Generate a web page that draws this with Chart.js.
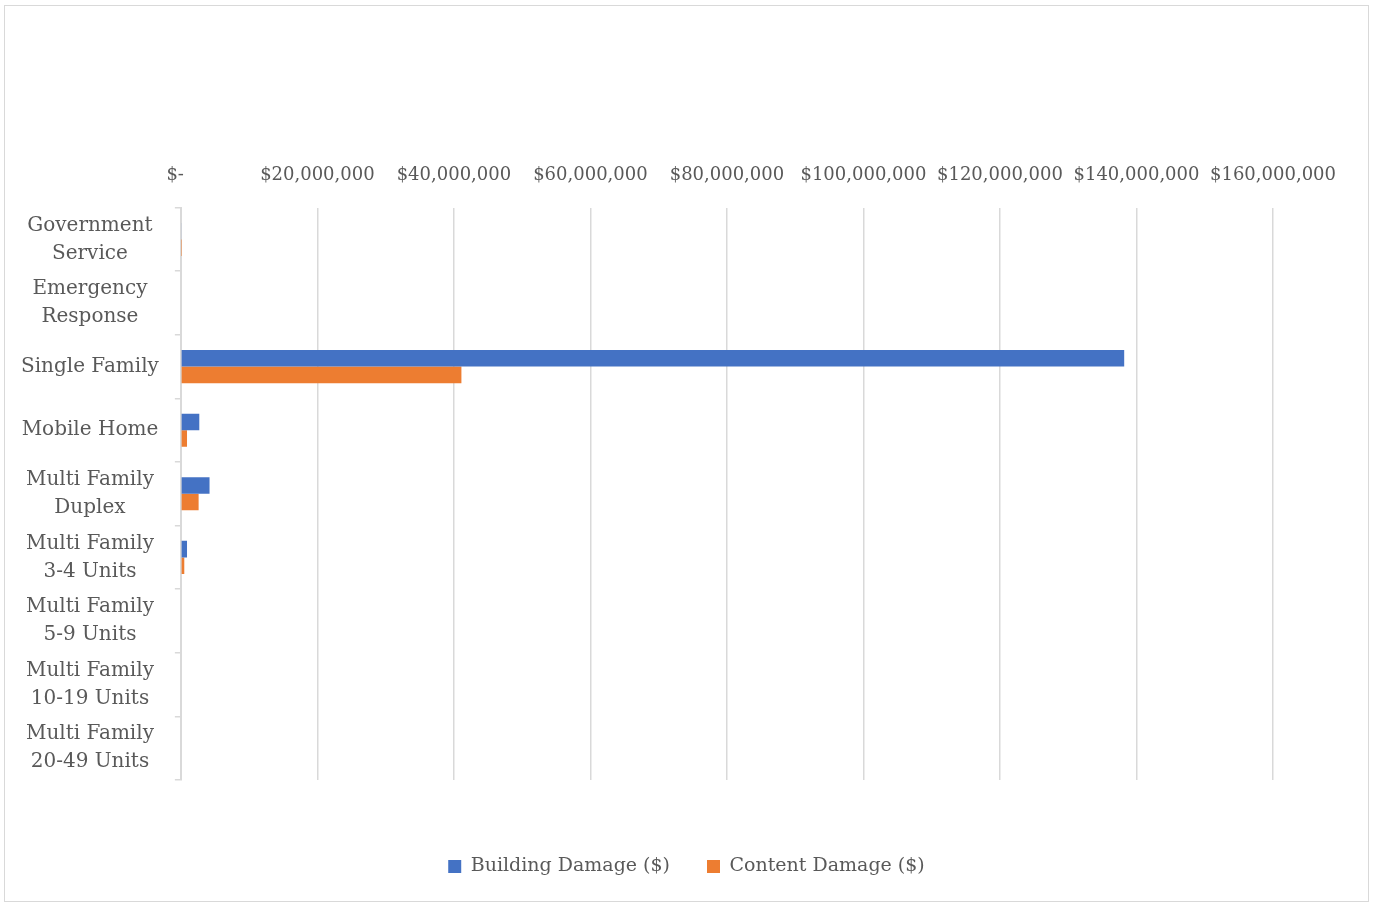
<!DOCTYPE html>
<html>
<head>
<meta charset="utf-8">
<script src="https://cdn.jsdelivr.net/npm/chart.js@4/dist/chart.umd.min.js"></script>
<style>
  html, body { margin: 0; padding: 0; background: #fff; }
  #frame {
    position: absolute; left: 4px; top: 5px;
    width: 1363px; height: 895px;
    border: 1px solid #d9d9d9;
  }
  canvas { display: block; }
</style>
</head>
<body>
<div id="frame"><canvas id="chart" width="1363" height="895"></canvas></div>
<script>
// Categories (multi-line labels as shown on the y axis)
var categories = [
    ['Government', 'Service'],
    ['Emergency', 'Response'],
    'Single Family',
    'Mobile Home',
    ['Multi Family', 'Duplex'],
    ['Multi Family', '3-4 Units'],
    ['Multi Family', '5-9 Units'],
    ['Multi Family', '10-19 Units'],
    ['Multi Family', '20-49 Units']
];

// Values (dollars)
var buildingDamage = [100000, 0, 138200000, 2700000, 4200000, 900000, 0, 0, 0];
var contentDamage  = [40000, 0, 41100000, 900000, 2600000, 500000, 0, 0, 0];

var seriesNames = ['Building Damage ($)', 'Content Damage ($)'];
var xTicks = [0, 20000000, 40000000, 60000000, 80000000, 100000000, 120000000, 140000000, 160000000];

var fontFamily = '"Roboto Slab", "DejaVu Serif", serif';
var textColor = '#595959';
var gridColor = '#d9d9d9';

// accounting style: zero shows as "$-" (trailing spaces like Excel)
function money(v) {
    if (v === 0) return '$-  ';
    return '$' + v.toLocaleString('en-US');
}

var ctx = document.getElementById('chart').getContext('2d');
var chart = new Chart(ctx, {
    type: 'bar',
    data: {
        labels: categories,
        datasets: [{
            label: seriesNames[0],
            data: buildingDamage,
            xAxisID: 'x',
            yAxisID: 'y',
            backgroundColor: '#4472C4',
            categoryPercentage: 0.52,
            barPercentage: 1.0
        }, {
            label: seriesNames[1],
            data: contentDamage,
            xAxisID: 'x',
            yAxisID: 'y',
            backgroundColor: '#ED7D31',
            categoryPercentage: 0.52,
            barPercentage: 1.0
        }]
    },
    options: {
        indexAxis: 'y',
        responsive: false,
        animation: false,
        layout: {
            padding: { top: 138, left: 0, right: 0, bottom: 15 }
        },
        plugins: {
            legend: {
                position: 'bottom',
                labels: {
                    color: textColor,
                    font: { family: fontFamily, size: 19 },
                    boxWidth: 13,
                    boxHeight: 13,
                    padding: 37
                }
            },
            tooltip: { enabled: false }
        },
        scales: {
            x: {
                position: 'top',
                min: 0,
                max: 160000000,
                afterBuildTicks: function(axis) {
                    axis.ticks = xTicks.map(function(v) { return { value: v }; });
                },
                ticks: {
                    color: textColor,
                    font: { family: fontFamily, size: 18 },
                    padding: 21,
                    maxRotation: 0,
                    callback: function(v) { return money(v); }
                },
                grid: {
                    color: gridColor,
                    lineWidth: 1.5,
                    drawTicks: false
                },
                border: { display: false }
            },
            y: {
                ticks: {
                    color: textColor,
                    font: { family: fontFamily, size: 20, lineHeight: 1.4 },
                    crossAlign: 'center',
                    padding: 16
                },
                grid: {
                    offset: true,
                    drawOnChartArea: false,
                    color: gridColor,
                    lineWidth: 1.5,
                    tickLength: 6
                },
                border: { color: gridColor, width: 2 }
            },
            // empty axes, they only keep the gaps around the plot
            gap: {
                type: 'linear',
                axis: 'x',
                position: 'bottom',
                ticks: { display: false },
                grid: { display: false },
                border: { display: false },
                afterFit: function(scale) { scale.height = 40; }
            },
            rightGap: {
                type: 'linear',
                axis: 'y',
                position: 'right',
                ticks: { display: false },
                grid: { display: false },
                border: { display: false },
                afterFit: function(scale) { scale.width = 95; }
            }
        }
    }
});
</script>
</body>
</html>
